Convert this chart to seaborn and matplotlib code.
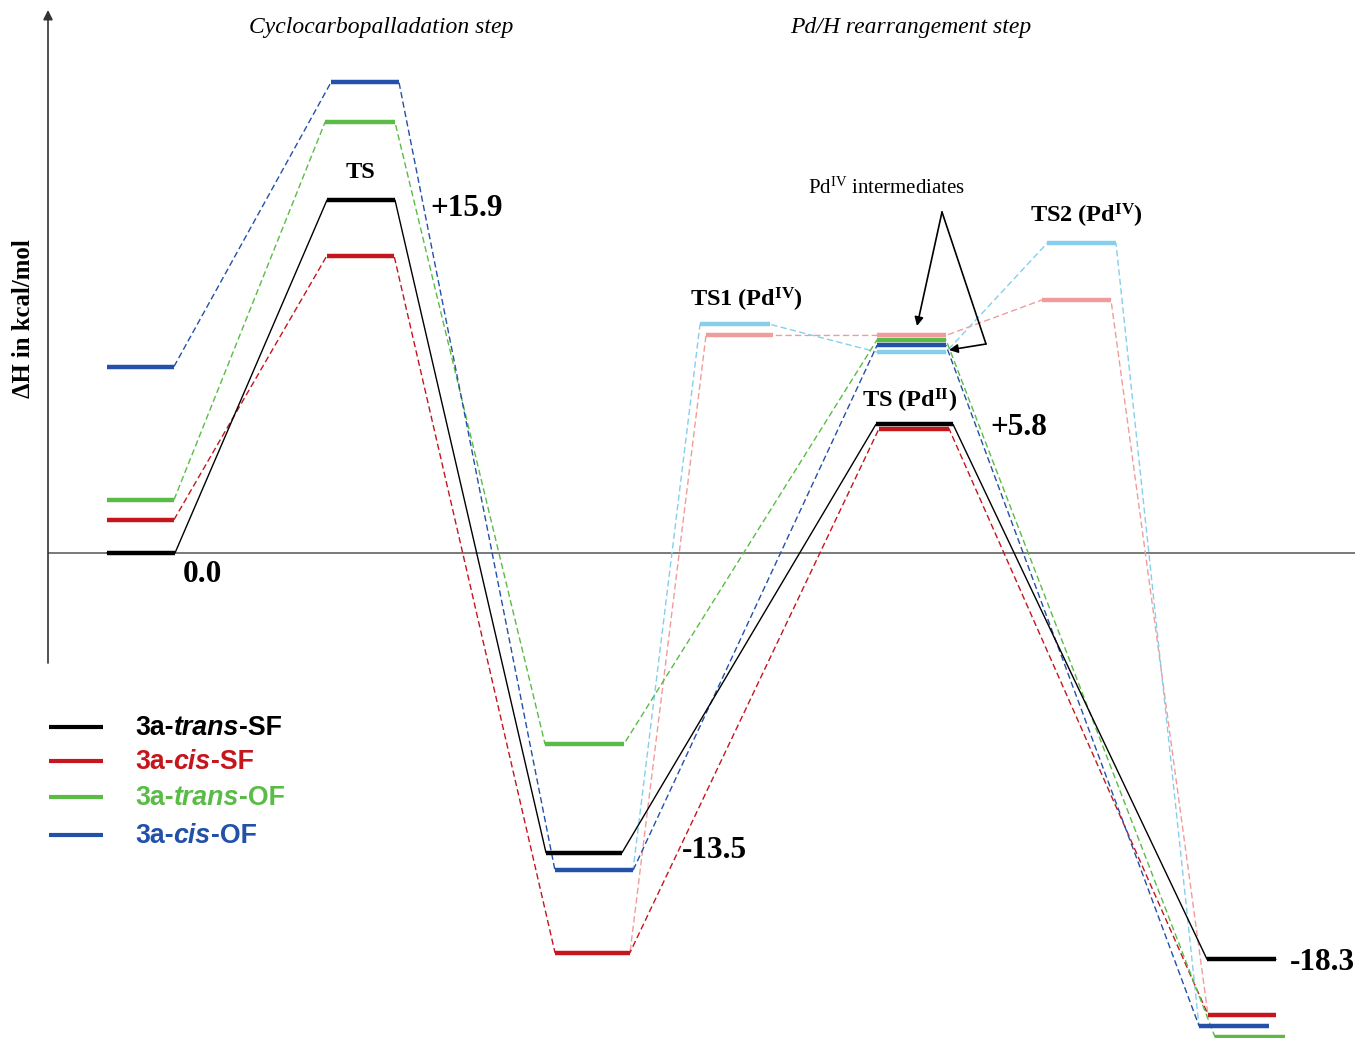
import matplotlib
matplotlib.use("Agg")
import matplotlib.pyplot as plt
import pandas as pd
import seaborn as sns

# ------------------- data (kcal/mol)

# main paths: reactant, TS, intermediate, TS(Pd II) / Pd IV int., product
trans_sf = [0.0, 15.9, -13.5, 5.8, -18.3]
cis_sf = [1.5, 13.4, -18.0, 5.6, -20.8]
trans_of = [2.4, 19.4, -8.6, 9.6, -21.8]
cis_of = [8.4, 21.2, -14.3, 9.35, -21.3]
# Pd IV routes: intermediate, TS1, Pd IV int., TS2, product
cis_sf_pd4 = [-18.0, 9.8, 9.8, 11.4, -20.8]
cis_of_pd4 = [-14.3, 10.3, 9.05, 13.95, -21.3]

legend_parts = [("3a-", "trans", "-SF"), ("3a-", "cis", "-SF"),
                ("3a-", "trans", "-OF"), ("3a-", "cis", "-OF")]

# ------------------- layout / style

W, H = 1358, 1038
spans = {
    "trans_sf": [(107, 175), (327, 395), (546, 622), (876, 953), (1207, 1276)],
    "cis_sf": [(107, 174), (327, 394), (555, 630), (879, 949), (1208, 1276)],
    "trans_of": [(107, 174), (325, 395), (545, 624), (877, 946), (1215, 1285)],
    "cis_of": [(107, 174), (331, 399), (555, 633), (877, 946), (1199, 1269)],
    "cis_sf_pd4": [(555, 630), (706, 773), (877, 946), (1042, 1111), (1208, 1276)],
    "cis_of_pd4": [(555, 633), (700, 770), (877, 946), (1047, 1116), (1199, 1269)],
}
colors = {"trans_sf": "#000000", "cis_sf": "#c4161c", "trans_of": "#5bbb47",
          "cis_of": "#2350a9", "cis_sf_pd4": "#f19c9c", "cis_of_pd4": "#86cfec"}
order = ["cis_sf_pd4", "cis_of_pd4", "cis_sf", "trans_of", "cis_of", "trans_sf"]
dash_map = {s: (4.5, 2.4) for s in order}
dash_map["trans_sf"] = ""

energies = {"trans_sf": trans_sf, "cis_sf": cis_sf, "trans_of": trans_of,
            "cis_of": cis_of, "cis_sf_pd4": cis_sf_pd4, "cis_of_pd4": cis_of_pd4}

rows, bars = [], []
for s in order:
    for i, (e, (x0, x1)) in enumerate(zip(energies[s], spans[s])):
        rows += [(s, s, x0, e), (s, s, x1, e)]
        if s.endswith("pd4") and i in (0, 4):
            continue  # shared with red/blue levels
        bars += [(f"{s}{i}", s, x0, e), (f"{s}{i}", s, x1, e)]
path_df = pd.DataFrame(rows, columns=["unit", "series", "x", "E"])
bar_df = pd.DataFrame(bars, columns=["unit", "series", "x", "E"])

sns.set_theme(style="white")
plt.rcParams["font.family"] = ["Liberation Serif", "DejaVu Serif"]
plt.rcParams["text.color"] = "black"
plt.rcParams["mathtext.fontset"] = "custom"
plt.rcParams["mathtext.rm"] = "Liberation Serif"
plt.rcParams["mathtext.bf"] = "Liberation Serif:bold"
plt.rcParams["mathtext.it"] = "Liberation Serif:italic"

fig = plt.figure(figsize=(W / 100, H / 100), dpi=100)
ax = fig.add_axes([0, 0, 1, 1])
scale = 22.2


def px(x, y):
    return (x / W, 1 - y / H)


# zero line and y axis
ax.hlines(0, 48, 1355, color="#555555", lw=1.1, zorder=0)
ax.annotate("", xy=px(48, 10), xytext=px(48, 663), xycoords="figure fraction",
            arrowprops=dict(arrowstyle="-|>", color="#333333", lw=1.2,
                            mutation_scale=14, shrinkA=0, shrinkB=0))

# connectors then levels
sns.lineplot(data=path_df, x="x", y="E", hue="series", style="series", units="unit",
             estimator=None, sort=False, palette=colors, hue_order=order,
             style_order=order, dashes=dash_map, linewidth=1.0, legend=False, ax=ax)
sns.lineplot(data=bar_df, x="x", y="E", hue="series", units="unit", estimator=None,
             sort=False, palette=colors, hue_order=order, linewidth=3.2,
             legend=False, ax=ax, solid_capstyle="butt")
ax.set_xlim(0, W)
ax.set_ylim(-(H - 553) / scale, 553 / scale)
ax.axis("off")

# titles
fig.text(*px(381, 27), "Cyclocarbopalladation step", style="italic", size=17,
         ha="center", va="center")
fig.text(*px(911, 27), "Pd/H rearrangement step", style="italic", size=17,
         ha="center", va="center")
fig.text(*px(24, 319), "ΔH in kcal/mol", rotation=90, weight="bold", size=17.8,
         ha="center", va="center")

# level labels
lab = dict(weight="bold", size=17.5, ha="center", va="center")
fig.text(*px(360, 173), "TS", **lab)
fig.text(*px(746, 300), r"TS1 (Pd$^{\mathbf{IV}}$)", **lab)
fig.text(*px(1086, 216), r"TS2 (Pd$^{\mathbf{IV}}$)", **lab)
fig.text(*px(910, 401), r"TS (Pd$^{\mathbf{II}}$)", **lab)
fig.text(*px(887, 188), r"Pd$^{\mathrm{IV}}$ intermediates", size=15, ha="center", va="center")

val = dict(weight="bold", size=22.5, va="center", ha="left")
fig.text(*px(183, 574), f"{trans_sf[0]:.1f}", **val)
fig.text(*px(430, 208), f"{trans_sf[1]:+.1f}", **val)
fig.text(*px(682, 850), f"{trans_sf[2]:.1f}", **val)
fig.text(*px(990, 427), f"{trans_sf[3]:+.1f}", **val)
fig.text(*px(1290, 963), f"{trans_sf[4]:.1f}", **val)

# arrows to the Pd IV intermediates
arr = dict(arrowstyle="-|>", color="black", lw=1.2, mutation_scale=13, shrinkA=0, shrinkB=0)
ax.annotate("", xy=px(917, 326), xytext=px(942, 212), xycoords="figure fraction", arrowprops=arr)
ax.plot([px(942, 212)[0], px(986, 344)[0]], [px(942, 212)[1], px(986, 344)[1]],
        color="black", lw=1.2, transform=fig.transFigure)
ax.annotate("", xy=px(949, 350), xytext=px(986, 344), xycoords="figure fraction", arrowprops=arr)

# legend
for k, (s, parts) in enumerate(zip(["trans_sf", "cis_sf", "trans_of", "cis_of"], legend_parts)):
    y = [727, 761, 797, 835][k]
    ax.plot([px(49, y)[0], px(103, y)[0]], [px(49, y)[1]] * 2, color=colors[s], lw=3,
            transform=fig.transFigure, solid_capstyle="butt")
    font = dict(family="Liberation Sans", weight="bold", size=19.3, color=colors[s])
    t = fig.text(*px(135, y + 1), parts[0], va="center", ha="left", **font)
    t = ax.annotate(parts[1], xy=(1, 0), xycoords=t, va="bottom", ha="left", style="italic", **font)
    ax.annotate(parts[2], xy=(1, 0), xycoords=t, va="bottom", ha="left", **font)

fig.savefig("out.png", dpi=100)
